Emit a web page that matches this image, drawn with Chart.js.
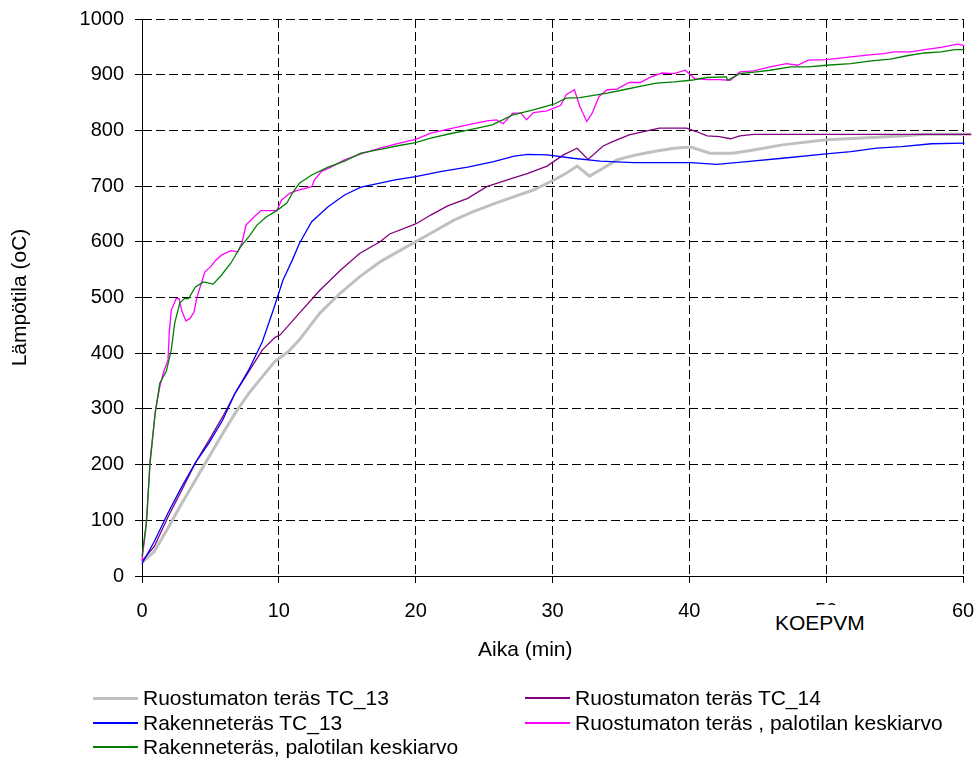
<!DOCTYPE html>
<html>
<head>
<meta charset="utf-8">
<script src="https://cdn.jsdelivr.net/npm/chart.js@4.4.1/dist/chart.umd.min.js"></script>
<style>
  html, body { margin: 0; padding: 0; background: #fff; }
  #wrap { position: relative; width: 977px; height: 761px; font-family: "Liberation Sans", Arial, sans-serif; color: #000; }
  #chart { position: absolute; left: 0; top: 0; }
  .txt { position: absolute; font-size: 21px; line-height: 24px; white-space: nowrap; }
  .leg { position: absolute; font-size: 21px; line-height: 24px; white-space: nowrap; }
  .leg i { display: inline-block; width: 45px; vertical-align: middle; margin-right: 5px; margin-top: -2px; }
</style>
</head>
<body>
<div id="wrap">
  <canvas id="chart" width="977" height="761"></canvas>
  <div class="txt" style="left:478px; top:637px;">Aika (min)</div>
  <div class="txt" style="left:769px; top:605px; padding:4px 6px 0 6px; background:#fff; line-height:28px;">KOEPVM</div>
  <div id="legend"></div>
</div>
<script>
// Lämpötilamittaukset, aika (min) / lämpötila (oC)

const tGray = [0, 0.9, 1.9, 2.9, 3.9, 4.9, 5.9, 6.8, 7.8, 8.8, 9.7, 10.7, 11.5, 13.0, 14.5, 15.9, 17.4, 18.9, 20.0, 21.3, 22.8, 24.2, 25.7, 27.2, 28.6, 30.1, 31.0, 31.8, 32.7, 33.7, 34.7, 36.1, 37.4, 38.9, 40.1, 41.5, 43.2, 44.7, 46.8, 50.0, 53.0, 55.5, 57.2, 60.6];
const vGray = [24, 44, 86, 130, 172, 214, 256, 292, 328, 358, 385, 403, 424, 472, 508, 537, 564, 585, 600, 618, 639, 654, 668, 681, 693, 711, 723, 736, 718, 732, 747, 756, 762, 768, 770, 759, 759, 765, 774, 783, 787, 790, 793, 793];

const tPurple = [0, 0.9, 1.9, 2.9, 3.9, 4.9, 5.9, 6.8, 7.8, 8.8, 9.7, 10.1, 11.5, 13.0, 14.5, 15.9, 17.4, 18.1, 20.0, 21.1, 22.3, 23.8, 25.2, 26.7, 28.2, 29.6, 30.8, 31.8, 32.6, 33.7, 34.4, 35.6, 36.9, 37.8, 39.8, 40.5, 41.3, 42.2, 43.0, 43.7, 44.7, 46.0, 50.0, 55.0, 60.6];
const vPurple = [27, 53, 106, 154, 203, 244, 286, 328, 367, 406, 428, 433, 472, 513, 549, 579, 600, 614, 632, 648, 664, 678, 699, 711, 723, 736, 756, 768, 748, 772, 780, 792, 799, 804, 804, 798, 790, 789, 785, 790, 793, 793, 793, 793, 793];

const tBlue = [0, 0.9, 1.9, 2.9, 3.9, 4.9, 5.9, 6.8, 7.8, 8.8, 9.6, 10.3, 11.0, 11.5, 12.4, 13.6, 14.8, 16.0, 17.3, 18.5, 20.0, 21.8, 23.8, 25.7, 27.2, 28.2, 29.6, 31.5, 33.5, 35.9, 40.1, 42.0, 44.2, 46.8, 50.0, 51.8, 53.7, 55.5, 57.7, 60.1, 60.6];
const vBlue = [22, 62, 113, 160, 203, 239, 280, 328, 370, 421, 478, 531, 568, 597, 636, 663, 684, 698, 705, 711, 717, 726, 734, 744, 754, 757, 756, 750, 745, 742, 742, 739, 744, 750, 758, 762, 768, 771, 776, 777, 777];

const tMagenta = [0, 0.3, 0.6, 1.0, 1.3, 1.6, 1.9, 2.0, 2.14, 2.5, 2.7, 2.9, 3.2, 3.5, 3.8, 4.0, 4.3, 4.6, 5.0, 5.4, 5.8, 6.5, 7.0, 7.3, 7.6, 8.2, 8.7, 9.4, 9.85, 10.2, 10.8, 11.3, 12.4, 12.6, 13.1, 13.8, 14.8, 16.0, 17.4, 18.6, 20.0, 21.1, 22.3, 23.8, 25.2, 25.9, 26.4, 27.1, 27.7, 28.1, 28.6, 29.6, 30.6, 31.0, 31.6, 32.0, 32.5, 32.9, 33.4, 34.0, 34.7, 35.6, 36.4, 37.2, 38.0, 38.9, 39.7, 40.4, 41.3, 42.2, 43.0, 43.7, 44.7, 45.9, 47.1, 47.9, 48.7, 50.0, 51.8, 53.0, 54.2, 55.0, 56.2, 57.2, 58.4, 59.6, 60.1, 60.6];
const vMagenta = [28, 90, 210, 300, 340, 368, 388, 440, 477, 498, 498, 477, 458, 462, 474, 499, 523, 546, 555, 567, 576, 584, 582, 598, 630, 645, 656, 656, 656, 675, 687, 692, 699, 711, 726, 734, 747, 758, 768, 776, 784, 795, 802, 810, 817, 819, 812, 831, 831, 819, 832, 835, 845, 864, 873, 843, 816, 831, 861, 873, 874, 886, 886, 896, 903, 902, 908, 893, 891, 891, 890, 905, 907, 914, 920, 917, 926, 927, 932, 935, 938, 941, 941, 945, 949, 955, 952, 958];

const tGreen = [0, 0.34, 0.58, 0.95, 1.3, 1.78, 2.14, 2.39, 2.76, 3.1, 3.4, 3.9, 4.5, 5.2, 5.8, 6.5, 7.2, 7.8, 8.4, 9.1, 9.85, 10.6, 11.0, 11.5, 12.4, 13.6, 14.8, 16.0, 17.4, 18.6, 20.0, 21.1, 22.5, 23.9, 25.6, 27.1, 28.6, 30.1, 31.0, 32.0, 33.0, 34.0, 35.2, 36.4, 37.6, 38.9, 40.1, 41.3, 42.7, 42.8, 43.7, 44.9, 45.9, 47.4, 48.7, 50.0, 51.8, 53.3, 54.7, 55.9, 57.2, 58.4, 59.4, 60.1, 60.4, 60.5];
const vGreen = [35, 100, 200, 290, 346, 368, 406, 454, 490, 498, 498, 519, 528, 524, 540, 562, 591, 609, 630, 645, 656, 670, 688, 705, 720, 734, 745, 759, 766, 772, 778, 786, 794, 801, 810, 828, 837, 847, 858, 859, 863, 867, 873, 879, 885, 887, 890, 895, 896, 890, 902, 905, 908, 914, 914, 917, 920, 925, 928, 934, 939, 941, 945, 945, 945, 905];

const FONT = '"Liberation Sans", Arial, sans-serif';

// järjestys = legendan järjestys (rivi kerrallaan)
const SERIES = [
  { label: 'Ruostumaton teräs TC_13', t: tGray, v: vGray, color: '#c0c0c0', width: 3, order: 5 },
  { label: 'Ruostumaton teräs TC_14', t: tPurple, v: vPurple, color: '#800080', width: 1.3, order: 4 },
  { label: 'Rakenneteräs TC_13', t: tBlue, v: vBlue, color: '#0000ff', width: 1.3, order: 3 },
  { label: 'Ruostumaton teräs , palotilan keskiarvo', t: tMagenta, v: vMagenta, color: '#ff00ff', width: 1.3, order: 2 },
  { label: 'Rakenneteräs, palotilan keskiarvo', t: tGreen, v: vGreen, color: '#008000', width: 1.3, order: 1 },
];
const LEGEND_POS = [[93, 698], [525, 698], [93, 722.5], [525, 722.5], [93, 747]];

const datasets = SERIES.map((s) => ({
  label: s.label,
  data: s.t.map((x, i) => ({ x, y: s.v[i] })),
  borderColor: s.color,
  borderWidth: s.width,
  pointRadius: 0,
  tension: 0,
  fill: false,
  order: s.order,
  clip: { left: 2, top: 2, right: 12, bottom: 2 },
}));

new Chart(document.getElementById('chart'), {
  type: 'line',
  data: { datasets },
  options: {
    responsive: false,
    devicePixelRatio: 1,
    animation: false,
    layout: { padding: { left: 0, right: 14, top: 19, bottom: 0 } },
    plugins: { legend: { display: false }, tooltip: { enabled: false } },
    scales: {
      x: {
        type: 'linear',
        min: 0,
        max: 60,
        ticks: { stepSize: 10, color: '#000', font: { family: FONT, size: 20 }, padding: 16, maxRotation: 0 },
        grid: { color: '#000', lineWidth: 1, tickLength: 7, tickColor: '#000' },
        border: { display: true, color: '#000', width: 1, dash: [9, 4] },
        afterFit: (s) => { s.height = 185; s.paddingLeft = 0; s.paddingRight = 0; },
      },
      y: {
        min: 0,
        max: 1000,
        ticks: { stepSize: 100, color: '#000', font: { family: FONT, size: 20 }, padding: 11, callback: (v) => String(v) },
        grid: { color: '#000', lineWidth: 1, tickLength: 7, tickColor: '#000' },
        border: { display: true, color: '#000', width: 1, dash: [9, 4] },
        title: { display: true, text: 'Lämpötila (oC)', color: '#000', font: { family: FONT, size: 21 }, padding: { top: 8, bottom: 0 } },
        afterFit: (s) => { s.width = 142; s.paddingTop = 0; s.paddingBottom = 0; },
      },
    },
  },
});

const legend = document.getElementById('legend');
SERIES.forEach((s, i) => {
  const [x, y] = LEGEND_POS[i];
  const d = document.createElement('div');
  d.className = 'leg';
  d.style.left = x + 'px';
  d.style.top = (y - 12) + 'px';
  d.innerHTML = '<i style="border-top:' + (s.width > 2 ? 3 : 2) + 'px solid ' + s.color + '"></i>' + s.label;
  legend.appendChild(d);
});
</script>
</body>
</html>
